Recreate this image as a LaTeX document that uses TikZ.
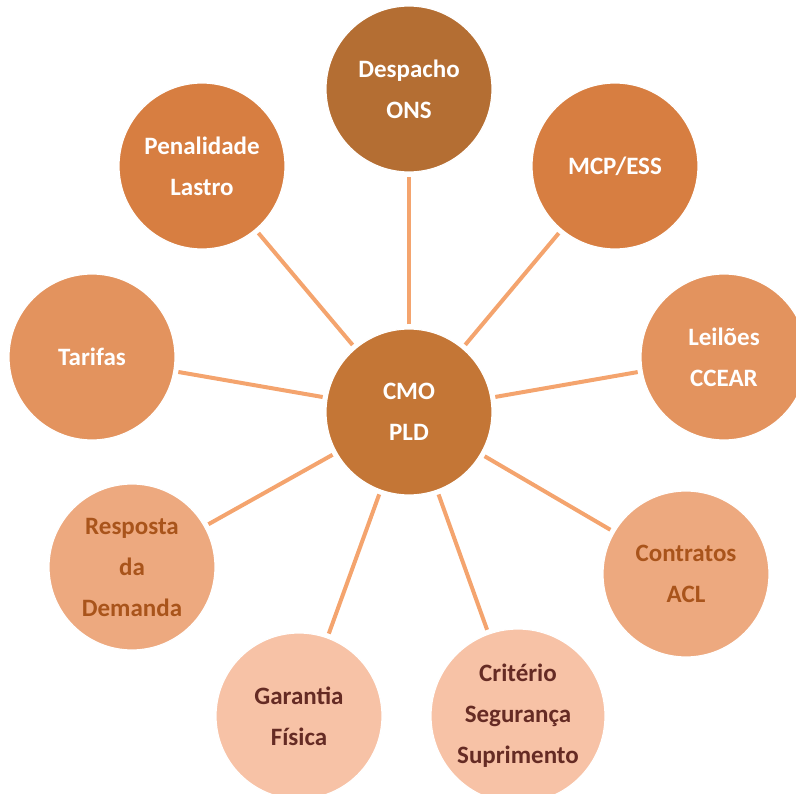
\documentclass[tikz,border=0pt]{standalone}
\usepackage{fontspec}
\setmainfont{Carlito}
\definecolor{spoke}{HTML}{F4A46E}
\definecolor{cDesp}{HTML}{B46E33}
\definecolor{cCmo}{HTML}{C47636}
\definecolor{cDark}{HTML}{D77E41}
\definecolor{cMid}{HTML}{E3935E}
\definecolor{cLight}{HTML}{EDA97F}
\definecolor{cPale}{HTML}{F7C2A6}
\definecolor{tBrown}{HTML}{A9541B}
\definecolor{tMaroon}{HTML}{652B24}
\begin{document}
\begin{tikzpicture}[x=1pt,y=-1pt,
    topic/.style={circle,draw=white,line width=1.2pt,inner sep=0pt,minimum size=166pt,
      align=center,font=\fontsize{25}{41}\selectfont\bfseries,text=white},
    link/.style={spoke,line width=4pt,shorten <=4pt,shorten >=4pt}]
    \clip (0,0) rectangle (796,794);
    \useasboundingbox (0,0) rectangle (796,794);

    \node[topic,fill=cCmo] (cmo) at (409,412) {CMO\\PLD};
    \node[topic,fill=cDesp] (despacho) at (409,89) {Despacho\\ONS};
    \node[topic,fill=cDark] (mcp) at (615,166) {MCP/ESS};
    \node[topic,fill=cMid] (leiloes) at (724,357) {Leilões\\CCEAR};
    \node[topic,fill=cLight,text=tBrown] (contratos) at (686,574) {Contratos\\ACL};
    \node[topic,fill=cPale,text=tMaroon,minimum size=174pt] (criterio) at (518,716) {Critério\\Segurança\\Suprimento};
    \node[topic,fill=cPale,text=tMaroon] (garantia) at (299,716) {Garantia\\Física};
    \node[topic,fill=cLight,text=tBrown] (resposta) at (132,567) {Resposta\\da\\Demanda};
    \node[topic,fill=cMid] (tarifas) at (92,357) {Tarifas};
    \node[topic,fill=cDark] (penalidade) at (202,166) {Penalidade\\Lastro};

    \foreach \n in {despacho,mcp,leiloes,contratos,criterio,garantia,resposta,tarifas,penalidade}
        \draw[link] (cmo) -- (\n);
\end{tikzpicture}
\end{document}
